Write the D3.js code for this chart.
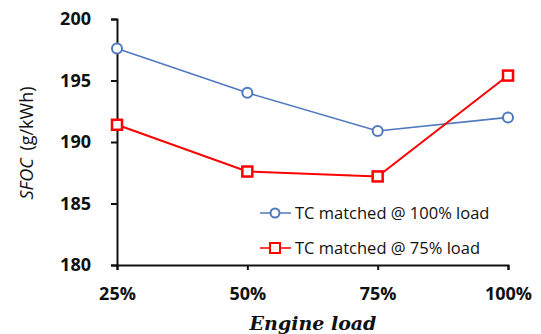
<!DOCTYPE html>
<html>
<head>
<meta charset="utf-8">
<script src="https://cdn.jsdelivr.net/npm/d3@7"></script>
<style>
  body { margin: 0; background: #fff; }
  svg text { fill: #111; }
</style>
</head>
<body>
<div id="chart"></div>
<script>
// chart data
var loads = ["25%", "50%", "75%", "100%"];
var tc100 = [197.6, 194.0, 190.9, 192.0];
var tc75 = [191.4, 187.6, 187.2, 195.4];
var yTicks = [180, 185, 190, 195, 200];
var seriesNames = ["TC matched @ 100% load", "TC matched @ 75% load"];

var W = 541, H = 334;
var margin = {top: 19, right: 33, bottom: 69, left: 117};
var width = W - margin.left - margin.right;
var height = H - margin.top - margin.bottom;

var svg = d3.select("#chart").append("svg")
    .attr("width", W)
    .attr("height", H);

var g = svg.append("g")
    .attr("transform", "translate(" + margin.left + "," + margin.top + ")");

var x = d3.scalePoint()
    .domain(loads)
    .range([0, width]);

var y = d3.scaleLinear()
    .domain([180, 200])
    .range([height, 0]);

// axes
var xAxis = g.append("g")
    .attr("transform", "translate(0," + height + ")")
    .call(d3.axisBottom(x).tickSize(5).tickSizeOuter(5).tickPadding(17));

var yAxis = g.append("g")
    .call(d3.axisLeft(y).tickValues(yTicks).tickSize(6).tickSizeOuter(6).tickPadding(20));

[xAxis, yAxis].forEach(function(a) {
  a.selectAll("path, line").attr("stroke", "#111").attr("stroke-width", 2);
  a.selectAll("text")
    .attr("font-family", "'Open Sans', sans-serif")
    .attr("font-weight", "bold")
    .attr("font-size", 18)
    .attr("fill", "#222");
});

// axis titles
svg.append("text")
    .attr("x", 313)
    .attr("y", 330)
    .attr("text-anchor", "middle")
    .attr("font-family", "'DejaVu Serif', serif")
    .attr("font-weight", "bold")
    .attr("font-style", "italic")
    .attr("font-size", 19)
    .text("Engine load");

var yl = svg.append("text")
    .attr("transform", "translate(33,143) rotate(-90)")
    .attr("text-anchor", "middle")
    .attr("font-size", 18);
yl.append("tspan")
    .attr("font-family", "'Open Sans', sans-serif")
    .attr("font-style", "italic")
    .text("SFOC ");
yl.append("tspan")
    .attr("font-family", "'Open Sans', sans-serif")
    .attr("dx", 3)
    .text("(g/kWh)");

var line = d3.line()
    .x(function(d, i) { return x(loads[i]); })
    .y(function(d) { return y(d); });

// blue series
g.append("path")
    .datum(tc100)
    .attr("fill", "none")
    .attr("stroke", "#4f78c0")
    .attr("stroke-width", 1.6)
    .attr("d", line);

g.selectAll(".c100")
    .data(tc100)
    .enter().append("circle")
    .attr("cx", function(d, i) { return x(loads[i]); })
    .attr("cy", function(d) { return y(d); })
    .attr("r", 5)
    .attr("fill", "#fff")
    .attr("stroke", "#4f78c0")
    .attr("stroke-width", 2);

// red series
g.append("path")
    .datum(tc75)
    .attr("fill", "none")
    .attr("stroke", "#ff0000")
    .attr("stroke-width", 2)
    .attr("d", line);

var sq = 10;
g.selectAll(".c75")
    .data(tc75)
    .enter().append("rect")
    .attr("x", function(d, i) { return x(loads[i]) - sq / 2; })
    .attr("y", function(d) { return y(d) - sq / 2; })
    .attr("width", sq)
    .attr("height", sq)
    .attr("fill", "#fff")
    .attr("stroke", "#ff0000")
    .attr("stroke-width", 2.5);

// legend
var lg = svg.append("g").attr("transform", "translate(260,213)");

lg.append("line").attr("x1", 0).attr("x2", 31).attr("y1", 0).attr("y2", 0)
    .attr("stroke", "#4f78c0").attr("stroke-width", 1.5);
lg.append("circle").attr("cx", 15).attr("cy", 0).attr("r", 4.5)
    .attr("fill", "#fff").attr("stroke", "#4f78c0").attr("stroke-width", 2);
lg.append("text").attr("x", 35).attr("y", 6)
    .attr("font-family", "'Open Sans', sans-serif")
    .attr("font-size", 16.5)
    .text(seriesNames[0]);

lg.append("line").attr("x1", 0).attr("x2", 31).attr("y1", 35).attr("y2", 35)
    .attr("stroke", "#ff0000").attr("stroke-width", 1.5);
lg.append("rect").attr("x", 10).attr("y", 30).attr("width", 10).attr("height", 10)
    .attr("fill", "#fff").attr("stroke", "#ff0000").attr("stroke-width", 2);
lg.append("text").attr("x", 35).attr("y", 41)
    .attr("font-family", "'Open Sans', sans-serif")
    .attr("font-size", 16.5)
    .text(seriesNames[1]);
</script>
</body>
</html>
